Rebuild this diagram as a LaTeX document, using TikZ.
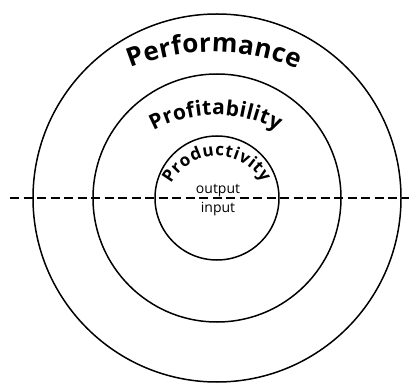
\documentclass[tikz,border=0pt]{standalone}
\usepackage{fontspec}
\setmainfont{Open Sans}
\newfontfamily\labelfont{Open Sans}
\usetikzlibrary{decorations.text}

\tikzset{
  ring/.style={draw=black, line width=1.5pt},
  divider/.style={draw=black, line width=2pt, dash pattern=on 9pt off 4.5pt},
  ratio/.style={font=\labelfont\fontsize{14}{14}\selectfont, inner sep=0pt},
  curvedtext/.style={decorate, decoration={text along path, text align={fit to path}, text={#1}}}
}

\begin{document}
\begin{tikzpicture}[x=1pt, y=1pt]
  \useasboundingbox (0,0) rectangle (409,383);
  \coordinate (c) at (217,185);

  % concentric rings
  \draw[ring] (c) circle[radius=184];
  \draw[ring] (c) circle[radius=124];
  \draw[ring] (c) circle[radius=62];

  % horizontal divider (output over input)
  \coordinate (dl) at (10,185);
  \coordinate (dr) at (409,185);
  \draw[divider] (dl) -- (dr);

  % ring titles set along arcs
  \path[curvedtext={|\labelfont\bfseries\fontsize{26}{26}\selectfont|Performance}]
    (213,110) ++(112:221) arc[start angle=112, end angle=67.5, radius=221];
  \path[curvedtext={|\labelfont\bfseries\fontsize{21}{21}\selectfont|Profitability}]
    (216,137) ++(118.5:131) arc[start angle=118.5, end angle=61.9, radius=131];
  \path[curvedtext={|\labelfont\bfseries\fontsize{17}{17}\selectfont|Productivity}]
    (217,175) ++(152:52) arc[start angle=152, end angle=29, radius=52];

  % ratio labels
  \node[ratio, anchor=base] (out) at (218,189) {output};
  \node[ratio, anchor=base] (in) at (218,170) {input};
\end{tikzpicture}
\end{document}
